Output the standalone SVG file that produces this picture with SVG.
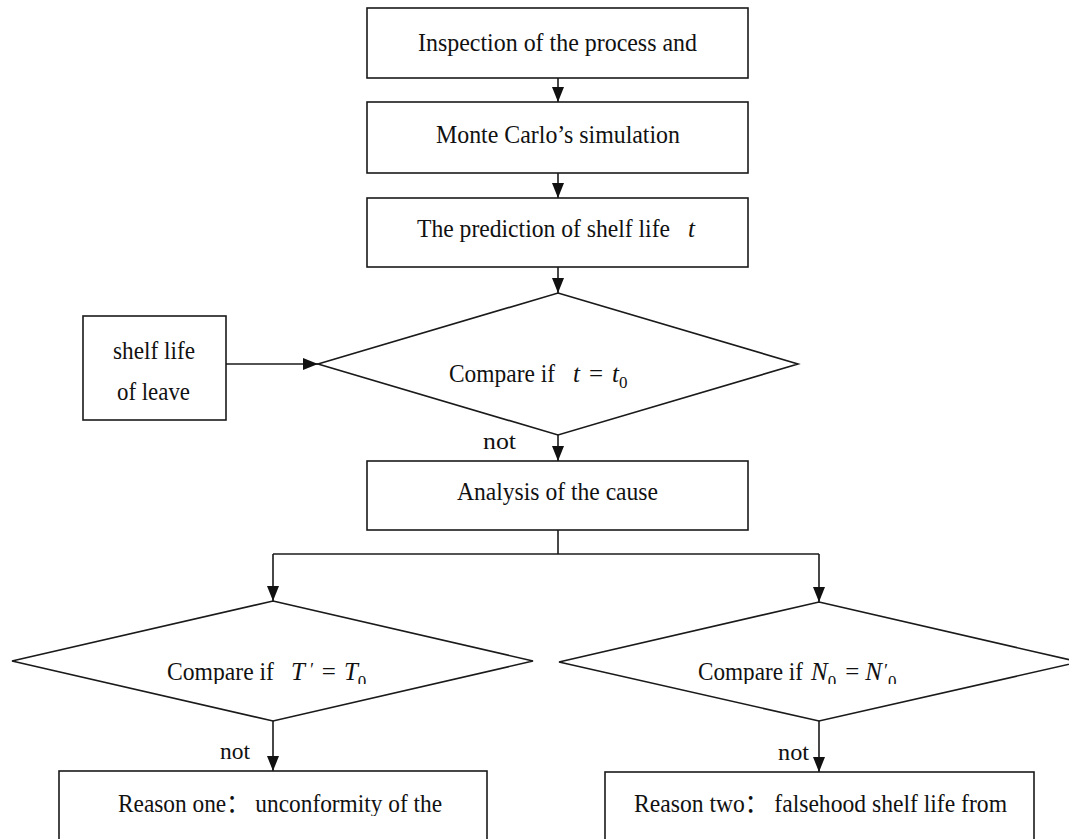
<svg xmlns="http://www.w3.org/2000/svg" width="1069" height="839" viewBox="0 0 1069 839">
<style>
.shape{fill:#fff;stroke:#1a1a1a;stroke-width:1.6}
.conn{fill:none;stroke:#1a1a1a;stroke-width:1.6}
.t{font-family:"Liberation Serif","Noto Sans CJK SC",serif;font-size:25px;fill:#111}
.n{font-family:"Liberation Serif",serif;font-size:24px;fill:#111}
.m{font-family:"Liberation Serif",serif;font-size:25px;font-style:italic;fill:#111}
.mr{font-family:"Liberation Serif",serif;font-size:25px;fill:#111}
.sub{font-family:"Liberation Serif",serif;font-size:17px;font-style:normal;fill:#111}
</style>
<defs>
<marker id="arr" markerUnits="userSpaceOnUse" markerWidth="15" markerHeight="12" refX="15" refY="6" orient="auto">
<path d="M0,0 L15,6 L0,12 z" fill="#111"/>
</marker>
<clipPath id="clipL"><rect x="0" y="600" width="1069" height="84"/></clipPath>
<clipPath id="clipB"><rect x="0" y="760" width="1069" height="56"/></clipPath>
</defs>
<rect width="1069" height="839" fill="#fff"/>
<g id="connectors">
<line class="conn" x1="558" y1="78" x2="558" y2="102" marker-end="url(#arr)"/>
<line class="conn" x1="558" y1="173" x2="558" y2="198" marker-end="url(#arr)"/>
<line class="conn" x1="558" y1="267" x2="558" y2="293" marker-end="url(#arr)"/>
<line class="conn" x1="226" y1="364" x2="318" y2="364" marker-end="url(#arr)"/>
<line class="conn" x1="558" y1="435" x2="558" y2="461" marker-end="url(#arr)"/>
<polyline class="conn" points="558,530 558,554"/>
<polyline class="conn" points="273,554 819,554"/>
<line class="conn" x1="273" y1="554" x2="273" y2="601" marker-end="url(#arr)"/>
<line class="conn" x1="819" y1="554" x2="819" y2="602" marker-end="url(#arr)"/>
<line class="conn" x1="273" y1="721" x2="273" y2="771" marker-end="url(#arr)"/>
<line class="conn" x1="819" y1="721" x2="819" y2="772" marker-end="url(#arr)"/>
<text class="n" x="483" y="449" textLength="33" lengthAdjust="spacingAndGlyphs">not</text>
<text class="n" x="220" y="759" textLength="30" lengthAdjust="spacingAndGlyphs">not</text>
<text class="n" x="778" y="760" textLength="31" lengthAdjust="spacingAndGlyphs">not</text>
</g>
<g id="inspection">
<rect class="shape" x="367" y="8" width="381" height="70"/>
<text class="t" x="418" y="51" textLength="279" lengthAdjust="spacingAndGlyphs">Inspection of the process and</text>
</g>
<g id="montecarlo">
<rect class="shape" x="367" y="102" width="381" height="71"/>
<text class="t" x="436" y="143" textLength="244" lengthAdjust="spacingAndGlyphs">Monte Carlo’s simulation</text>
</g>
<g id="prediction">
<rect class="shape" x="367" y="198" width="381" height="69"/>
<text class="t" x="417" y="237" textLength="253" lengthAdjust="spacingAndGlyphs">The prediction of shelf life</text>
<text class="m" x="688" y="237">t</text>
</g>
<g id="shelflife">
<rect class="shape" x="83" y="316" width="143" height="104"/>
<text class="t" x="113" y="359" textLength="82" lengthAdjust="spacingAndGlyphs">shelf life</text>
<text class="t" x="117" y="400" textLength="73" lengthAdjust="spacingAndGlyphs">of leave</text>
</g>
<g id="compare1">
<polygon class="shape" points="558,293 798,364 558,435 318,364"/>
<text class="t" x="449" y="382" textLength="106" lengthAdjust="spacingAndGlyphs">Compare if</text>
<text class="m" x="573" y="382">t<tspan class="mr" dx="9" font-style="normal">=</tspan><tspan dx="9">t</tspan><tspan class="sub" dy="6">0</tspan></text>
</g>
<g id="analysis">
<rect class="shape" x="367" y="461" width="381" height="69"/>
<text class="t" x="457" y="500" textLength="201" lengthAdjust="spacingAndGlyphs">Analysis of the cause</text>
</g>
<g id="compare2">
<polygon class="shape" points="273,601 533,661 273,721 12,661"/>
<g clip-path="url(#clipL)">
<text class="t" x="167" y="680" textLength="107" lengthAdjust="spacingAndGlyphs">Compare if</text>
<text class="m" x="291" y="680">T<tspan dx="4" dy="-4" font-size="18">′</tspan><tspan class="mr" dx="9" dy="4" font-style="normal">=</tspan><tspan dx="8">T</tspan><tspan class="sub" dx="0" dy="7">0</tspan></text>
</g>
</g>
<g id="compare3">
<polygon class="shape" points="819,602 1079,662 819,721 559,662"/>
<g clip-path="url(#clipL)">
<text class="t" x="698" y="680" textLength="105" lengthAdjust="spacingAndGlyphs">Compare if</text>
<text class="m" x="811" y="680">N<tspan class="sub" dx="0" dy="7">0</tspan><tspan class="mr" dx="9" dy="-7" font-style="normal">=</tspan><tspan dx="6">N</tspan><tspan dx="1" dy="-3" font-size="18">′</tspan><tspan class="sub" dx="1" dy="10">0</tspan></text>
</g>
</g>
<g id="reason1">
<rect class="shape" x="59" y="771" width="428" height="80"/>
<text class="t" x="118" y="812" textLength="324" lengthAdjust="spacingAndGlyphs" clip-path="url(#clipB)">Reason one： unconformity of the</text>
</g>
<g id="reason2">
<rect class="shape" x="605" y="772" width="429" height="80"/>
<text class="t" x="634" y="812" textLength="373" lengthAdjust="spacingAndGlyphs" clip-path="url(#clipB)">Reason two： falsehood shelf life from</text>
</g>
</svg>
